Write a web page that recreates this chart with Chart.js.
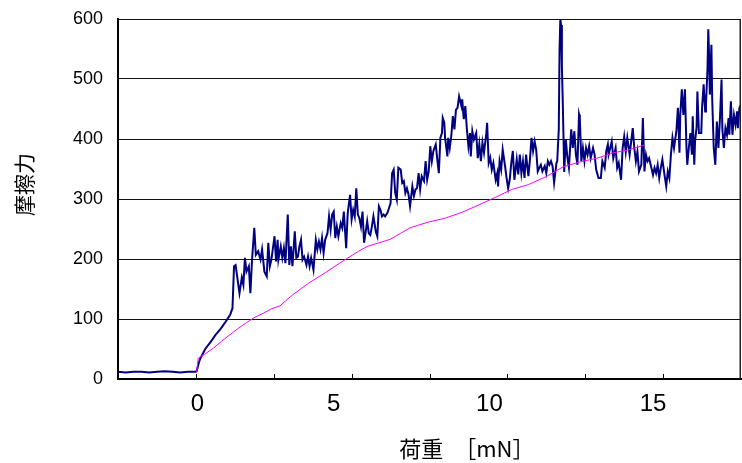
<!DOCTYPE html>
<html>
<head>
<meta charset="utf-8">
<title>摩擦力</title>
<script src="https://cdn.jsdelivr.net/npm/chart.js@4.4.1/dist/chart.umd.min.js"></script>
<style>
  html, body { margin: 0; padding: 0; background: #ffffff; }
  #wrap { width: 742px; height: 463px; }
</style>
</head>
<body>
<div id="wrap"><canvas id="chart" width="742" height="463"></canvas></div>
<script>
// Sample position along the scratch (x) and measured friction force (y)
const frictionX = [-100,-90,-80,-70,-60,-50,-40,-30,-20,-10,0,
  1,4,6,8,12,19,25,32,38,44,47,49,51,56,59,61,63,65,68,70,72,75,77,80,83,85,88,91,93,95,97,
  101,103,105,106,109,111,113,115,118,120,122,124,127,129,131,133,135,137,139,142,144,146,148,
  151,154,156,158,160,162,164,166,169,171,173,175,177,179,181,183,186,188,190,193,195,198,
  200,202,204,206,208,210,212,214,216,220,222,224,226,228,231,233,235,237,239,241,243,246,248,
  250,252,254,256,258,260,263,265,267,269,271,273,275,278,280,282,284,286,288,290,293,295,297,299,
  301,303,305,308,310,312,314,316,317,319,320,323,324,326,328,330,332,334,336,338,341,342,344,346,348,
  350,352,353,355,357,360,362,364,366,368,370,373,374,376,378,380,382,385,387,388,390,392,394,397,399,
  401,403,405,407,409,412,414,416,418,420,422,424,427,429,431,433,435,437,439,441,443,445,448,
  450,452,454,456,458,460,463,464,466,467,468,469,470,471,473,475,477,479,482,484,486,488,490,492,493,495,497,499,
  501,503,505,507,510,512,514,517,520,522,525,527,529,530,532,534,536,539,541,543,546,548,
  550,552,554,557,559,561,563,565,567,569,572,574,576,578,580,582,584,587,589,591,593,595,597,599,
  602,604,606,608,610,612,614,617,619,621,622,624,626,628,630,631,633,635,637,638,640,641,643,644,646,649,
  650,652,654,655,657,658,659,660,662,663,665,667,669,671,673,675,676,678,680,682,684,685,687,689,
  691,693,695,696,698,700];
const frictionY = [12,11,12,12,11,12,13,12,11,12,12,
  13,28,35,40,50,62,73,84,95,107,118,188,190,143,169,157,202,179,188,143,196,252,207,213,199,216,179,171,227,188,199,
  238,196,232,199,221,202,218,193,274,190,221,188,246,202,204,221,232,199,204,190,204,188,202,
  182,232,216,229,216,235,210,232,243,271,249,274,279,235,254,238,260,252,279,218,277,307,
  266,282,271,318,274,268,254,279,227,263,243,240,254,271,246,238,288,282,271,274,271,277,285,
  293,343,349,310,299,352,349,327,330,310,318,308,288,321,305,316,318,343,316,338,330,363,332,346,
  388,363,380,391,366,343,402,410,435,427,402,371,402,385,405,438,416,449,452,471,455,466,433,455,416,
  388,410,371,413,399,410,368,391,363,394,377,410,427,360,369,349,360,332,343,321,363,349,382,355,335,
  318,332,360,380,332,366,341,374,343,363,335,374,338,366,402,380,396,382,346,352,357,346,355,
  343,363,357,363,355,327,360,363,416,549,600,590,520,470,345,400,370,352,416,385,413,374,357,441,435,363,385,363,
  385,374,388,368,385,374,349,335,335,363,352,380,391,374,385,396,368,385,352,360,332,385,
  404,379,402,374,396,418,385,363,379,346,357,435,346,374,363,368,357,340,352,343,357,335,352,366,
  338,321,346,335,374,402,385,413,452,377,440,483,440,483,385,357,385,410,374,438,357,396,420,479,410,410,
  452,491,446,457,518,583,540,474,557,468,385,357,429,385,435,499,418,385,418,407,435,407,463,407,
  440,424,446,418,452,457];

// Reference curve, same sample positions
const referenceX = [1,3,12,23,33,44,55,65,76,87,97,108,124,145,166,188,209,220,250,263,275,297,
  320,342,363,385,406,427,451,472,494,515,536,556,576];
const referenceY = [12,35,42,52,63,74,85,94,103,110,117,122,140,160,177,196,213,221,233,243,252,261,
  268,278,290,303,316,324,338,354,362,368,377,382,390];

// Axes
const frictionTicks = [0, 100, 200, 300, 400, 500, 600];
const loadLabels = ['0', '5', '10', '15'];
const loadLabelAt = [2, 177, 377, 587];
const xMin = -100, xMax = 700, xTickStep = 100;
const xTitle = '荷重　［mN］';
const yTitle = '摩擦力';

const numFont = "'Liberation Sans', Arial, sans-serif";
const cjkFont = "'Noto Sans CJK JP', sans-serif";

function pairs(xs, ys) { return xs.map((x, i) => ({ x: x, y: ys[i] })); }

// inward tick marks on the bottom axis, right frame edge and axis titles
const decorations = {
  id: 'decorations',
  afterDraw(chart) {
    const { ctx, chartArea: a, scales } = chart;
    const x = scales.x;
    ctx.save();
    ctx.strokeStyle = '#000';
    ctx.lineWidth = 1;
    for (let v = xMin + xTickStep; v < xMax; v += xTickStep) {
      const px = Math.round(x.getPixelForValue(v)) + 0.5;
      ctx.beginPath();
      ctx.moveTo(px, a.bottom);
      ctx.lineTo(px, a.bottom - 5);
      ctx.stroke();
    }
    ctx.lineWidth = 1.5;
    ctx.strokeStyle = '#222';
    ctx.beginPath();
    ctx.moveTo(a.right - 0.75, a.top);
    ctx.lineTo(a.right - 0.75, a.bottom);
    ctx.stroke();

    ctx.fillStyle = '#000';
    ctx.textAlign = 'center';
    ctx.textBaseline = 'middle';
    ctx.font = '22px ' + cjkFont;
    ctx.fillText(xTitle, a.left + (a.right - a.left) * 0.56, 449);
    ctx.font = '21px ' + cjkFont;
    ctx.translate(24, a.top + (a.bottom - a.top) * 0.46);
    ctx.rotate(-Math.PI / 2);
    ctx.fillText(yTitle, 0, 0);
    ctx.restore();
  }
};

new Chart(document.getElementById('chart'), {
  type: 'line',
  data: {
    datasets: [
      {
        label: 'reference',
        data: pairs(referenceX, referenceY),
        borderColor: '#ff00ff',
        borderWidth: 1,
        pointRadius: 0,
        tension: 0,
        fill: false
      },
      {
        label: 'friction',
        data: pairs(frictionX, frictionY),
        borderColor: '#000080',
        borderWidth: 2,
        pointRadius: 0,
        tension: 0,
        fill: false
      }
    ]
  },
  options: {
    responsive: false,
    animation: false,
    events: [],
    layout: { padding: { top: 19, right: 1, left: 0, bottom: 0 } },
    plugins: { legend: { display: false }, tooltip: { enabled: false } },
    scales: {
      x: {
        type: 'linear',
        min: xMin,
        max: xMax,
        afterBuildTicks: (s) => { s.ticks = loadLabelAt.map(v => ({ value: v })); },
        afterFit: (s) => { s.height = 84; s.paddingLeft = 0; s.paddingRight = 0; },
        grid: { display: false, drawTicks: false },
        border: { display: true, color: '#000', width: 2 },
        ticks: {
          autoSkip: false,
          maxRotation: 0,
          padding: 11,
          color: '#000',
          font: { family: numFont, size: 24 },
          callback: (v, i) => loadLabels[i]
        }
      },
      y: {
        min: 0,
        max: 600,
        afterBuildTicks: (s) => { s.ticks = frictionTicks.map(v => ({ value: v })); },
        afterFit: (s) => { s.width = 118; s.paddingTop = 0; s.paddingBottom = 0; },
        grid: { color: '#111', lineWidth: 1, drawTicks: false },
        border: { display: true, color: '#000', width: 2 },
        ticks: {
          padding: 15,
          color: '#000',
          font: { family: numFont, size: 18 }
        }
      }
    }
  },
  plugins: [decorations]
});
</script>
</body>
</html>
